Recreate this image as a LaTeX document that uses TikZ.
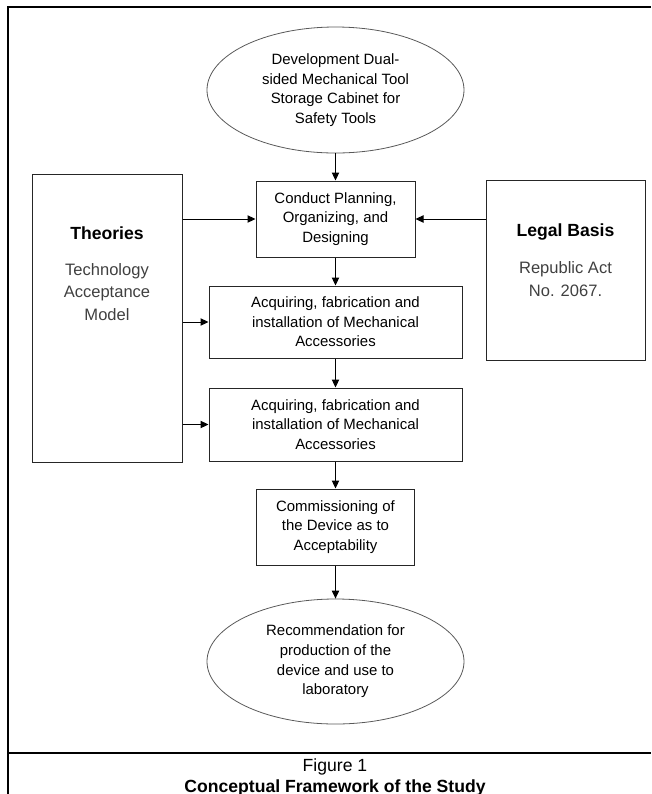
\documentclass[tikz,border=0pt]{standalone}
\usepackage{fontspec}
\setmainfont{Liberation Sans}
\usetikzlibrary{positioning, arrows.meta, shapes.geometric, calc}

\newcommand{\boxfont}{\fontsize{11.2}{14.7}\selectfont}
\newcommand{\headfont}{\fontsize{13.2}{16}\selectfont\bfseries}
\newcommand{\sidefont}{\fontsize{12.4}{16.9}\selectfont}
\newcommand{\capfont}{\fontsize{13.2}{16}\selectfont}

\tikzset{
  box/.style={draw=black!85, line width=0.75pt, align=center, inner sep=0pt, font=\boxfont},
  oval/.style={ellipse, draw=black!65, line width=0.6pt, align=center, inner sep=0pt, font=\boxfont},
  sidehead/.style={align=center, inner sep=0pt, font=\headfont},
  sidetext/.style={align=center, inner sep=0pt, font=\sidefont, text=black!75},
  flow/.style={-{Triangle[length=6pt,width=5.5pt]}, line width=0.75pt}
}

\begin{document}
\begin{tikzpicture}[x=0.75pt, y=-0.75pt]
\useasboundingbox (0,0) rectangle (651,794);
% Frame
\draw[line width=0.8pt] (8,794) -- (8,7) -- (651,7);
\draw[line width=0.8pt] (8,753) -- (651,753);

% Main flow
\node[oval, minimum width=192.75pt, minimum height=94.5pt] (dev) at (335.5,90) {Development Dual-\\sided Mechanical Tool\\Storage Cabinet for\\Safety Tools};
\node[box, minimum width=119.25pt, minimum height=57pt] (plan) at (335.5,219) {Conduct Planning,\\Organizing, and\\Designing};
\node[box, minimum width=189.75pt, minimum height=54pt] (acqA) at (335.5,322) {Acquiring, fabrication and\\installation of Mechanical\\Accessories};
\node[box, minimum width=189.75pt, minimum height=54.75pt] (acqB) at (335.5,424.5) {Acquiring, fabrication and\\installation of Mechanical\\Accessories};
\node[box, minimum width=118.5pt, minimum height=57pt] (comm) at (335.5,527) {Commissioning of\\the Device as to\\Acceptability};
\node[oval, minimum width=192.75pt, minimum height=93.75pt] (rec) at (335.5,661.5) {Recommendation for\\production of the\\device and use to\\laboratory};

% Theories
\node[box, minimum width=112.5pt, minimum height=216pt] (theo) at (107,318) {};
\node[sidehead] (theohead) at (107,233) {Theories};
\node[sidetext] (theotext) at (107,292) {Technology\\Acceptance\\Model};

% Legal basis
\node[box, minimum width=119.25pt, minimum height=135pt] (legal) at (565.5,270) {};
\node[sidehead] (legalhead) at (565.5,232) {Legal Basis};
\node[sidetext] (legaltext) at (565.5,279) {Republic Act\\No. 2067.};

% Arrows
\draw[flow] (dev) -- (plan);
\draw[flow] (plan) -- (acqA);
\draw[flow] (acqA) -- (acqB);
\draw[flow] (acqB) -- (comm);
\draw[flow] (comm) -- (rec);
\draw[flow] (theo.east |- plan.west) -- (plan.west);
\draw[flow] (legal.west |- plan.east) -- (plan.east);
\draw[flow] (theo.east |- acqA.west) -- (acqA.west);
\draw[flow] (theo.east |- acqB.west) -- (acqB.west);

% Caption
\node[font=\capfont, anchor=base] (fig) at (335,771) {Figure 1};
\node[font=\capfont\bfseries, anchor=base] (title) at (335,792) {Conceptual Framework of the Study};
\end{tikzpicture}
\end{document}
